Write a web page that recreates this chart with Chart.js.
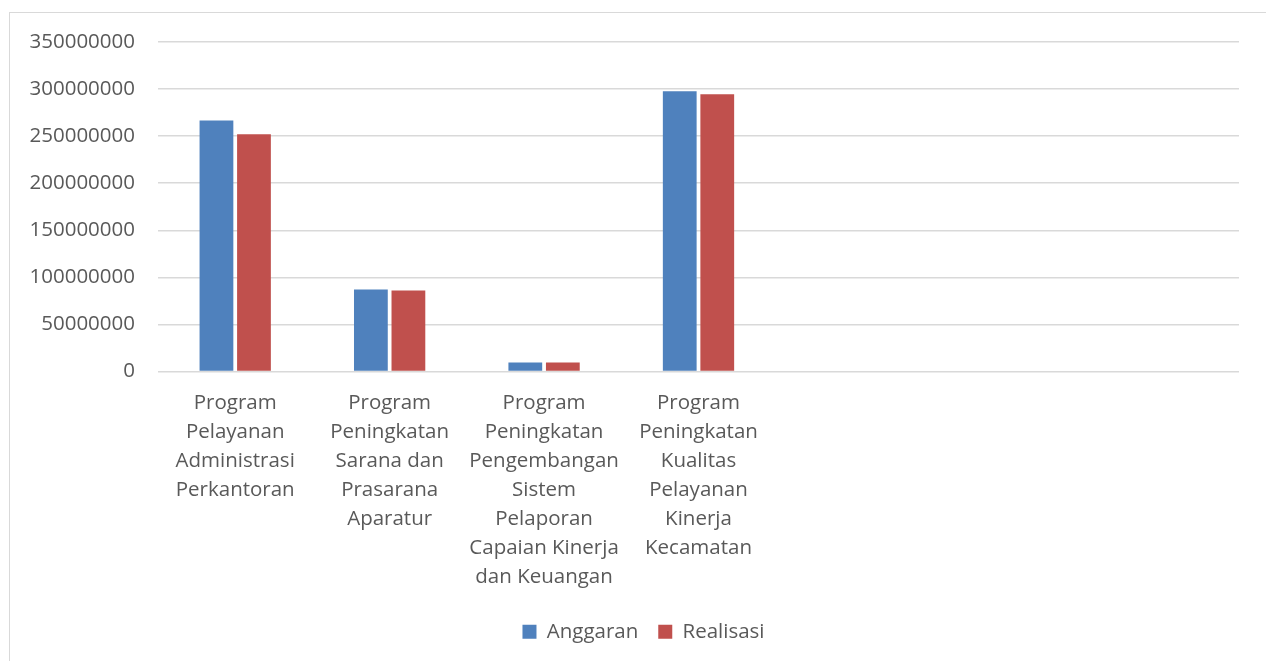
<!DOCTYPE html>
<html>
<head>
<meta charset="utf-8">
<script src="https://cdn.jsdelivr.net/npm/chart.js@4"></script>
<style>
  html, body { margin: 0; padding: 0; background: #fff; }
  #wrap { position: relative; width: 1266px; height: 661px; }
  #frame { position: absolute; left: 9px; top: 12px; width: 1270px; height: 660px; border: 1px solid #D9D9D9; box-sizing: border-box; pointer-events: none; }
  canvas { position: absolute; left: 0; top: 0; }
</style>
</head>
<body>
<div id="wrap">
  <canvas id="c" width="1266" height="661"></canvas>
  <div id="frame"></div>
</div>
<script>
const categories = [
  ["Program", "Pelayanan", "Administrasi", "Perkantoran"],
  ["Program", "Peningkatan", "Sarana dan", "Prasarana", "Aparatur"],
  ["Program", "Peningkatan", "Pengembangan", "Sistem", "Pelaporan", "Capaian Kinerja", "dan Keuangan"],
  ["Program", "Peningkatan", "Kualitas", "Pelayanan", "Kinerja", "Kecamatan"],
  "", "", ""
];
const anggaran = [266500000, 87000000, 9500000, 297700000, null, null, null];
const realisasi = [252000000, 86000000, 9500000, 294500000, null, null, null];
const yTicks = [0, 50000000, 100000000, 150000000, 200000000, 250000000, 300000000, 350000000];

const FONT = "'Open Sans', sans-serif";
const TXT = '#595959';

const legendShift = {
  id: 'legendShift',
  afterLayout(chart) {
    const lg = chart.legend;
    if (lg) { lg.left += 24; lg.right += 24; }
  }
};

new Chart(document.getElementById('c'), {
  type: 'bar',
  data: {
    labels: categories,
    datasets: [
      { label: 'Anggaran', data: anggaran, backgroundColor: '#4F81BD', borderWidth: 0,
        categoryPercentage: 0.486, barPercentage: 0.9 },
      { label: 'Realisasi', data: realisasi, backgroundColor: '#C0504D', borderWidth: 0,
        categoryPercentage: 0.486, barPercentage: 0.9 }
    ]
  },
  plugins: [legendShift],
  options: {
    responsive: false,
    animation: false,
    devicePixelRatio: 1,
    layout: { padding: { top: 42, right: 27, bottom: 9, left: 0 } },
    plugins: {
      legend: {
        position: 'bottom',
        labels: { boxWidth: 14, boxHeight: 14, color: TXT, font: { family: FONT, size: 20.5 }, padding: 20 }
      },
      tooltip: { enabled: false }
    },
    scales: {
      x: {
        grid: { display: false, drawTicks: false },
        border: { display: false },
        ticks: { color: TXT, font: { family: FONT, size: 20.5, lineHeight: 1.415 }, maxRotation: 0, minRotation: 0, autoSkip: false, padding: 17 },
        afterFit: s => { s.height = 230; }
      },
      y: {
        min: 0, max: 350000000,
        afterBuildTicks: s => { s.ticks = yTicks.map(v => ({ value: v })); },
        grid: { color: '#D9D9D9', lineWidth: 1.5, drawTicks: false },
        border: { display: false },
        ticks: { color: TXT, font: { family: FONT, size: 20.5 }, padding: 23, callback: v => String(v) },
        afterFit: s => { s.width = 158; }
      }
    }
  }
});
</script>
</body>
</html>
